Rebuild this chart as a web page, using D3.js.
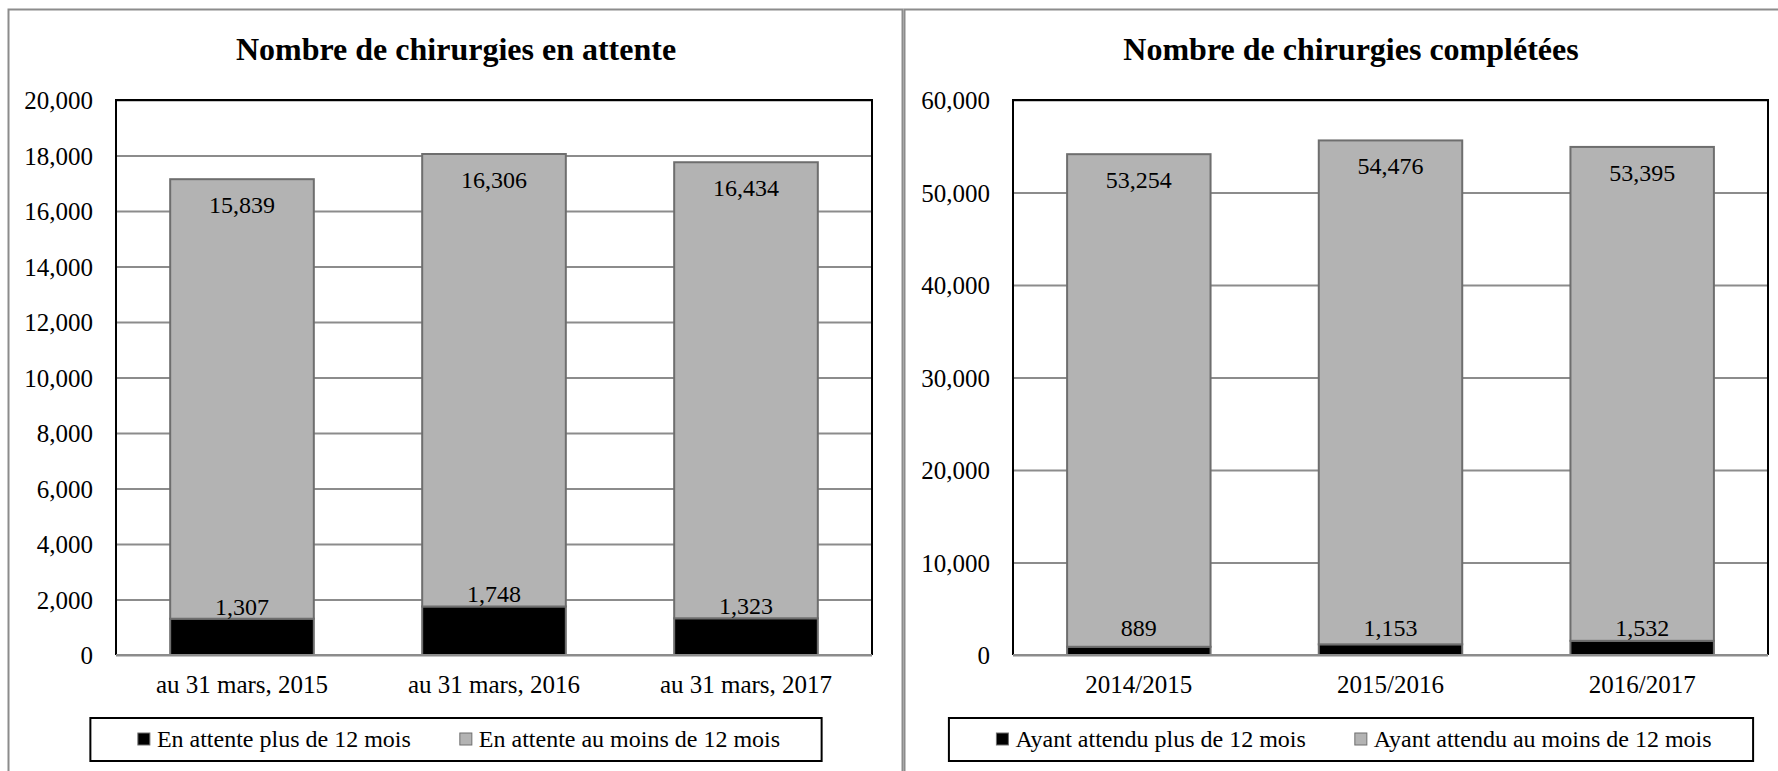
<!DOCTYPE html>
<html>
<head>
<meta charset="utf-8">
<script src="https://cdn.jsdelivr.net/npm/d3@7"></script>
<style>
  body { margin: 0; background: #fff; }
  svg text { font-family: "Liberation Serif", "Times New Roman", serif; fill: #000; }
</style>
</head>
<body>
<div id="chart"></div>
<script>
// Data
var attenteCats = ["au 31 mars, 2015", "au 31 mars, 2016", "au 31 mars, 2017"];
var attentePlus = [1307, 1748, 1323];
var attenteMoins = [15839, 16306, 16434];
var attenteTicks = [0, 2000, 4000, 6000, 8000, 10000, 12000, 14000, 16000, 18000, 20000];
var attenteLegend = ["En attente plus de 12 mois", "En attente au moins de 12 mois"];

var completeesCats = ["2014/2015", "2015/2016", "2016/2017"];
var completeesPlus = [889, 1153, 1532];
var completeesMoins = [53254, 54476, 53395];
var completeesTicks = [0, 10000, 20000, 30000, 40000, 50000, 60000];
var completeesLegend = ["Ayant attendu plus de 12 mois", "Ayant attendu au moins de 12 mois"];

// Layout
var W = 1778, H = 771;
var plotTop = 100, plotBottom = 655;
var fmt = d3.format(",");
var colors = { plus: "#000000", moins: "#b3b3b3" };

var svg = d3.select("#chart").append("svg")
  .attr("width", W)
  .attr("height", H);

// panel frames
svg.append("rect")
  .attr("x", 8.5).attr("y", 9.5)
  .attr("width", 894).attr("height", 900)
  .attr("fill", "none").attr("stroke", "#8c8c8c").attr("stroke-width", 2);
svg.append("rect")
  .attr("x", 904.5).attr("y", 9.5)
  .attr("width", 900).attr("height", 900)
  .attr("fill", "none").attr("stroke", "#8c8c8c").attr("stroke-width", 2);

function drawPanel(cfg) {
  var g = svg.append("g");

  // title
  g.append("text")
    .attr("x", cfg.center).attr("y", 60)
    .attr("text-anchor", "middle")
    .style("font-size", "32px").style("font-weight", "bold")
    .text(cfg.title);

  var x = d3.scaleBand()
    .domain(cfg.cats)
    .range([cfg.left, cfg.right])
    .paddingInner(0.43)
    .paddingOuter(0.215);

  var y = d3.scaleLinear()
    .domain([0, cfg.ticks[cfg.ticks.length - 1]])
    .range([plotBottom, plotTop]);

  // gridlines
  g.append("g")
    .attr("transform", "translate(" + cfg.left + ",0)")
    .call(d3.axisLeft(y).tickValues(cfg.ticks).tickSize(-(cfg.right - cfg.left)).tickFormat(""))
    .call(function(s) {
      s.select(".domain").remove();
      s.selectAll("line").attr("stroke", "#8c8c8c").attr("stroke-width", 2);
    });

  // y tick labels
  g.append("g")
    .attr("transform", "translate(" + cfg.left + ",0)")
    .call(d3.axisLeft(y).tickValues(cfg.ticks).tickSize(0).tickPadding(23).tickFormat(fmt))
    .call(function(s) {
      s.select(".domain").remove();
      s.selectAll("text")
        .attr("font-family", null)
        .style("font-size", "25px")
        .attr("dy", "0.34em");
    });

  // stacked bars
  var rows = cfg.cats.map(function(c, i) {
    return { cat: c, plus: cfg.plus[i], moins: cfg.moins[i] };
  });
  var series = d3.stack().keys(["plus", "moins"])(rows);

  g.selectAll("g.series")
    .data(series)
    .enter().append("g")
    .attr("class", "series")
    .attr("fill", function(d) { return colors[d.key]; })
    .selectAll("rect")
    .data(function(d) { return d; })
    .enter().append("rect")
    .attr("x", function(d) { return x(d.data.cat); })
    .attr("y", function(d) { return y(d[1]); })
    .attr("width", x.bandwidth())
    .attr("height", function(d) { return y(d[0]) - y(d[1]); })
    .attr("stroke", "#6e6e6e")
    .attr("stroke-width", 2);

  // plot frame: black on three sides, grey base line
  g.append("path")
    .attr("d", "M" + cfg.left + "," + plotBottom + "V" + plotTop + "H" + cfg.right + "V" + plotBottom)
    .attr("fill", "none").attr("stroke", "#000").attr("stroke-width", 2);
  g.append("line")
    .attr("x1", cfg.left).attr("x2", cfg.right)
    .attr("y1", y(0)).attr("y2", y(0))
    .attr("stroke", "#8c8c8c").attr("stroke-width", 2);

  // value labels
  g.selectAll("text.lab-moins")
    .data(rows)
    .enter().append("text")
    .attr("class", "lab-moins")
    .attr("x", function(d) { return x(d.cat) + x.bandwidth() / 2; })
    .attr("y", function(d) { return y(d.plus + d.moins) + 34; })
    .attr("text-anchor", "middle")
    .style("font-size", "24px")
    .text(function(d) { return fmt(d.moins); });

  g.selectAll("text.lab-plus")
    .data(rows)
    .enter().append("text")
    .attr("class", "lab-plus")
    .attr("x", function(d) { return x(d.cat) + x.bandwidth() / 2; })
    .attr("y", function(d) { return Math.min(y(d.plus) - 4, y(0) - 19); })
    .attr("text-anchor", "middle")
    .style("font-size", "24px")
    .text(function(d) { return fmt(d.plus); });

  // category labels
  g.append("g")
    .attr("transform", "translate(0," + plotBottom + ")")
    .call(d3.axisBottom(x).tickSize(0).tickPadding(0))
    .call(function(s) {
      s.select(".domain").remove();
      s.selectAll("text")
        .attr("font-family", null)
        .attr("y", 38).attr("dy", null)
        .style("font-size", "25px");
    });

  // legend
  var leg = g.append("g");
  var box = leg.append("rect")
    .attr("y", 718).attr("height", 43)
    .attr("fill", "#fff").attr("stroke", "#000").attr("stroke-width", 2);
  var cursor = 0;
  var keys = ["plus", "moins"];
  var items = leg.append("g");
  keys.forEach(function(k, i) {
    var it = items.append("g").attr("transform", "translate(" + cursor + ",0)");
    it.append("rect")
      .attr("x", 0).attr("y", 733).attr("width", 12).attr("height", 12)
      .attr("fill", colors[k]).attr("stroke", "#6e6e6e").attr("stroke-width", 1);
    var t = it.append("text")
      .attr("x", 19).attr("y", 747)
      .style("font-size", "24px")
      .text(cfg.legend[i]);
    cursor += 19 + t.node().getComputedTextLength() + 49;
  });
  var contentW = cursor - 49;
  var boxW = contentW + 89;
  items.attr("transform", "translate(" + (cfg.center - contentW / 2 + 3) + ",0)");
  box.attr("x", cfg.center - boxW / 2).attr("width", boxW);
}

drawPanel({
  title: "Nombre de chirurgies en attente",
  center: 456, left: 116, right: 872,
  cats: attenteCats, plus: attentePlus, moins: attenteMoins,
  ticks: attenteTicks, legend: attenteLegend
});

drawPanel({
  title: "Nombre de chirurgies complétées",
  center: 1351, left: 1013, right: 1768,
  cats: completeesCats, plus: completeesPlus, moins: completeesMoins,
  ticks: completeesTicks, legend: completeesLegend
});
</script>
</body>
</html>
